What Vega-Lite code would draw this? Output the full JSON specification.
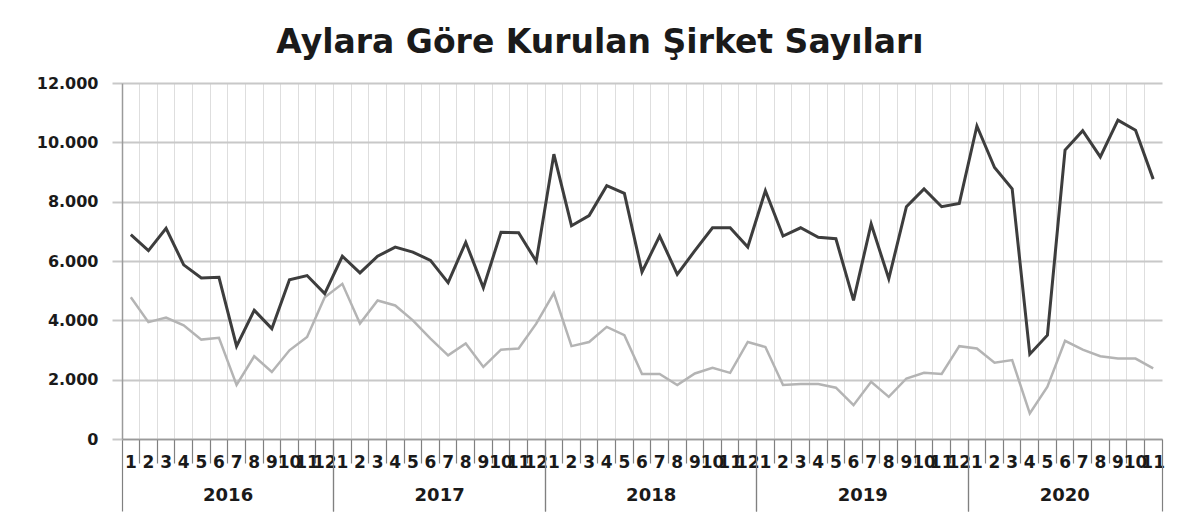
{
  "$schema": "https://vega.github.io/schema/vega-lite/v6.json",
  "width": 1040,
  "height": 356,
  "autosize": "none",
  "padding": {"left": 122, "top": 83, "right": 38, "bottom": 84},
  "background": "white",
  "config": {"view": {"stroke": null}},
  "title": {
    "text": "Aylara Göre Kurulan Şirket Sayıları",
    "font": "DejaVu Sans",
    "fontSize": 33,
    "fontWeight": "bold",
    "color": "#1a1a1a",
    "anchor": "middle",
    "frame": "group",
    "dx": -42,
    "baseline": "alphabetic",
    "offset": -11
  },
  "data": {
    "values": [
      {"ym": "2016-1", "a": 6890, "b": 4780},
      {"ym": "2016-2", "a": 6350, "b": 3940},
      {"ym": "2016-3", "a": 7100, "b": 4090},
      {"ym": "2016-4", "a": 5870, "b": 3830},
      {"ym": "2016-5", "a": 5430, "b": 3350},
      {"ym": "2016-6", "a": 5450, "b": 3410},
      {"ym": "2016-7", "a": 3130, "b": 1820},
      {"ym": "2016-8", "a": 4340, "b": 2790},
      {"ym": "2016-9", "a": 3720, "b": 2260},
      {"ym": "2016-10", "a": 5370, "b": 2990},
      {"ym": "2016-11", "a": 5510, "b": 3440},
      {"ym": "2016-12", "a": 4900, "b": 4780},
      {"ym": "2017-1", "a": 6160, "b": 5230},
      {"ym": "2017-2", "a": 5600, "b": 3890},
      {"ym": "2017-3", "a": 6160, "b": 4670},
      {"ym": "2017-4", "a": 6470, "b": 4500},
      {"ym": "2017-5", "a": 6300, "b": 4000},
      {"ym": "2017-6", "a": 6020, "b": 3380},
      {"ym": "2017-7", "a": 5270, "b": 2820},
      {"ym": "2017-8", "a": 6630, "b": 3220},
      {"ym": "2017-9", "a": 5100, "b": 2430},
      {"ym": "2017-10", "a": 6970, "b": 3010},
      {"ym": "2017-11", "a": 6950, "b": 3050},
      {"ym": "2017-12", "a": 5990, "b": 3890},
      {"ym": "2018-1", "a": 9600, "b": 4920},
      {"ym": "2018-2", "a": 7190, "b": 3130},
      {"ym": "2018-3", "a": 7530, "b": 3270},
      {"ym": "2018-4", "a": 8540, "b": 3780},
      {"ym": "2018-5", "a": 8280, "b": 3500},
      {"ym": "2018-6", "a": 5630, "b": 2190},
      {"ym": "2018-7", "a": 6840, "b": 2190},
      {"ym": "2018-8", "a": 5550, "b": 1820},
      {"ym": "2018-9", "a": 6350, "b": 2210},
      {"ym": "2018-10", "a": 7120, "b": 2400},
      {"ym": "2018-11", "a": 7120, "b": 2230},
      {"ym": "2018-12", "a": 6470, "b": 3270},
      {"ym": "2019-1", "a": 8370, "b": 3100},
      {"ym": "2019-2", "a": 6840, "b": 1820},
      {"ym": "2019-3", "a": 7120, "b": 1850},
      {"ym": "2019-4", "a": 6800, "b": 1850},
      {"ym": "2019-5", "a": 6750, "b": 1730},
      {"ym": "2019-6", "a": 4670, "b": 1140},
      {"ym": "2019-7", "a": 7250, "b": 1930},
      {"ym": "2019-8", "a": 5400, "b": 1420},
      {"ym": "2019-9", "a": 7830, "b": 2040},
      {"ym": "2019-10", "a": 8430, "b": 2230},
      {"ym": "2019-11", "a": 7830, "b": 2190},
      {"ym": "2019-12", "a": 7940, "b": 3130},
      {"ym": "2020-1", "a": 10550, "b": 3050},
      {"ym": "2020-2", "a": 9150, "b": 2570},
      {"ym": "2020-3", "a": 8430, "b": 2660},
      {"ym": "2020-4", "a": 2860, "b": 860},
      {"ym": "2020-5", "a": 3500, "b": 1760},
      {"ym": "2020-6", "a": 9740, "b": 3310},
      {"ym": "2020-7", "a": 10390, "b": 3010},
      {"ym": "2020-8", "a": 9510, "b": 2790},
      {"ym": "2020-9", "a": 10750, "b": 2710},
      {"ym": "2020-10", "a": 10410, "b": 2710},
      {"ym": "2020-11", "a": 8760, "b": 2380}
    ]
  },
  "resolve": {"axis": {"x": "independent"}},
  "layer": [
    {
      "mark": {"type": "line", "color": "#b4b4b4", "strokeWidth": 2.5},
      "encoding": {
        "x": {
          "field": "ym", "type": "ordinal", "sort": null, "bandPosition": 0.5,
          "scale": {"type": "band", "paddingInner": 0, "paddingOuter": 0},
          "axis": {
            "orient": "bottom", "title": null, "bandPosition": 0,
            "grid": true, "gridColor": "#dedede", "gridWidth": 1,
            "ticks": true,
            "tickSize": {"condition": {"test": "split(datum.value, '-')[1] == '1'", "value": 72}, "value": 24},
            "tickColor": "#808080", "tickWidth": 1.2,
            "domain": true, "domainColor": "#9a9a9a", "domainWidth": 1.5,
            "labelExpr": "split(datum.value, '-')[1]",
            "labelAngle": 0, "labelOffset": 0,
            "labelPadding": {"condition": {"test": "split(datum.value, '-')[1] == '1'", "value": -57}, "value": -9},
            "labelOverlap": false, "labelBound": false, "labelFlush": false,
            "labelFont": "DejaVu Sans", "labelFontWeight": "bold", "labelFontSize": 17, "labelColor": "#1a1a1a"
          }
        },
        "y": {
          "field": "b", "type": "quantitative",
          "scale": {"domain": [0, 12000], "nice": false},
          "axis": {
            "title": null, "values": [0, 2000, 4000, 6000, 8000, 10000, 12000],
            "labelExpr": "datum.value == 0 ? '0' : replace(format(datum.value, ','), ',', '.')",
            "grid": true, "gridColor": "#c8c8c8", "gridWidth": 2,
            "ticks": true, "tickSize": 10, "tickColor": "#c8c8c8", "tickWidth": 2,
            "domain": true, "domainColor": "#9a9a9a", "domainWidth": 1.5,
            "labelPadding": 14, "labelFont": "DejaVu Sans", "labelFontWeight": "bold", "labelFontSize": 16, "labelColor": "#1a1a1a"
          }
        }
      }
    },
    {
      "mark": {"type": "line", "color": "#3d3d3d", "strokeWidth": 3},
      "encoding": {
        "x": {
          "field": "ym", "type": "ordinal", "sort": null, "bandPosition": 0.5,
          "scale": {"type": "band", "paddingInner": 0, "paddingOuter": 0},
          "axis": {
            "orient": "bottom", "title": null, "bandPosition": 1,
            "values": ["2016-12", "2017-12", "2018-12", "2019-12", "2020-11"],
            "grid": false, "domain": false,
            "ticks": true, "tickSize": 72, "tickColor": "#808080", "tickWidth": 1.2,
            "labelExpr": "split(datum.value, '-')[0]",
            "labelAngle": 0,
            "labelOffset": {"condition": {"test": "datum.value == '2020-11'", "value": -88.4}, "value": -96.6},
            "labelPadding": -25,
            "labelOverlap": false, "labelBound": false, "labelFlush": false,
            "labelFont": "DejaVu Sans", "labelFontWeight": "bold", "labelFontSize": 18, "labelColor": "#1a1a1a"
          }
        },
        "y": {
          "field": "a", "type": "quantitative",
          "scale": {"domain": [0, 12000], "nice": false},
          "axis": {
            "title": null, "values": [0, 2000, 4000, 6000, 8000, 10000, 12000],
            "labelExpr": "datum.value == 0 ? '0' : replace(format(datum.value, ','), ',', '.')",
            "grid": true, "gridColor": "#c8c8c8", "gridWidth": 2,
            "ticks": true, "tickSize": 10, "tickColor": "#c8c8c8", "tickWidth": 2,
            "domain": true, "domainColor": "#9a9a9a", "domainWidth": 1.5,
            "labelPadding": 14, "labelFont": "DejaVu Sans", "labelFontWeight": "bold", "labelFontSize": 16, "labelColor": "#1a1a1a"
          }
        }
      }
    }
  ]
}
